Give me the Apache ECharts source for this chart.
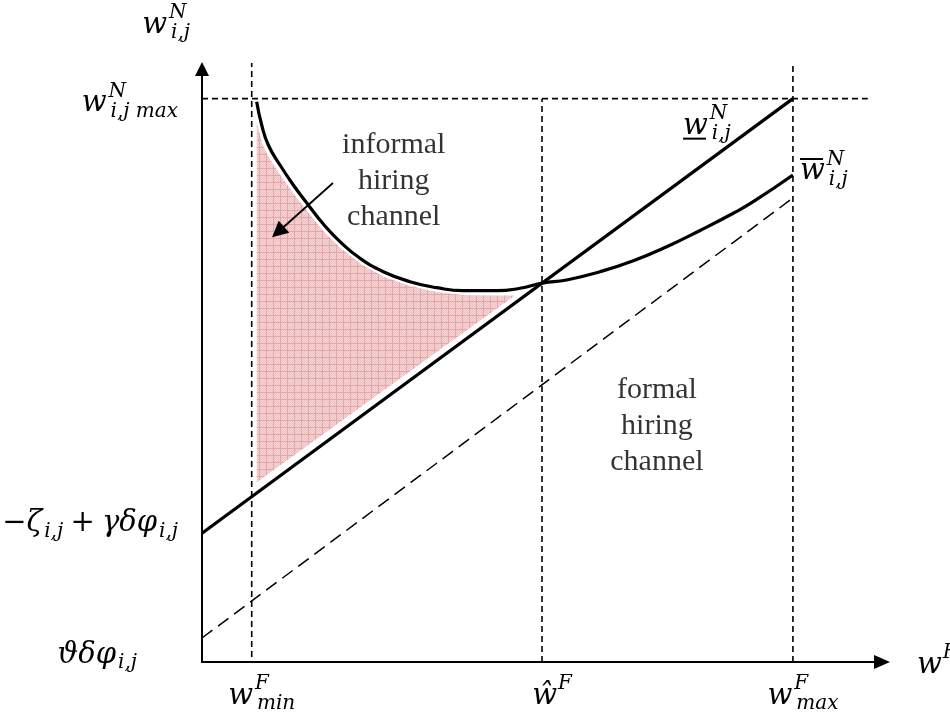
<!DOCTYPE html>
<html><head><meta charset="utf-8">
<script src="https://cdn.jsdelivr.net/npm/echarts@6/dist/echarts.min.js"></script>
<style>html,body{margin:0;padding:0;background:#fff}#c{width:950px;height:718px}</style>
</head><body><div id="c"></div>
<script>
// ---------- data (abstract units, x: 0..100, y: 0..100) ----------
const xTickValues = [7.31, 50, 86.9];                 // w^F_min, ŵ^F, w^F_max
const xTickLabels = ['{w|w}{supz|F}{sub|min}', '{w|ŵ}{sup|F}', '{w|w}{supz|F}{sub|max}'];
const yTickValues = [4.05, 21.7, 95.0];               // ϑδφ, −ζ+γδφ, w^N max
const yTickLabels = [
  '{dn|}\n{m|ϑδφ}{sub|i,j}{gap|}',
  '{m|−ζ}{sub|i,j}{m|\u2005+\u2005γδφ}{sub|i,j}\n{up|}',
  '{dn10|}\n{w|w}{supz|N}{sub|i,j max}'
];

const lowerBoundLine = [[0, 21.7], [86.9, 95.0]];      // underline w^N_{i,j}
const upperBoundCurve = [
  [8.04, 94.49], [8.78, 90.56], [9.75, 87.18], [11.47, 83.81], [13.43, 80.44],
  [15.63, 77.07], [17.84, 73.85], [20.29, 70.88], [23.24, 68.08], [26.66, 65.82],
  [30.59, 64.13], [34.51, 63.12], [38.43, 62.61], [43.34, 62.61], [46.76, 63.02],
  [50.0, 63.9], [53.63, 64.42], [58.53, 65.82], [63.43, 67.67], [68.34, 70.03],
  [73.24, 72.77], [78.13, 75.67], [81.07, 77.62], [86.9, 82.12]
];                                                      // overline w^N_{i,j}
const floorLine = [[0, 4.05], [86.9, 78.25]];          // dashed diagonal
const maxWageLine = [[0, 95.0], [97.9, 95.0]];         // w^N_{i,j max}
const wMinLine = [[7.31, 0.84], [7.31, 101]];
const wHatLine = [[50, 0], [50, 95.0]];
const wMaxLine = [[86.9, 0], [86.9, 100.5]];
const informalRegion = [
  [8.05, 91.0], [8.8, 87.6], [9.75, 85.2], [11.47, 82.2], [13.43, 79.0], [15.63, 75.8],
  [17.84, 72.7], [20.29, 69.9], [23.24, 67.2], [26.66, 65.0], [30.59, 63.4], [34.51, 62.4],
  [38.4, 61.9], [43.3, 61.8], [46.0, 61.8], [8.05, 30.3]
];
const arrowPoints = [[19.26, 80.78], [11.18, 72.51]];

// ---------- styling ----------
const MF = 'DejaVu Serif';
const TF = 'Liberation Serif';
function mathRich(big, small, lh) {
  const base = {fontFamily: MF, fontStyle: 'italic', color: '#000', align: 'left', lineHeight: lh};
  return {
    w: Object.assign({}, base, {fontSize: big}),
    m: Object.assign({}, base, {fontSize: big}),
    sup: Object.assign({}, base, {fontSize: small, padding: [0, 0, 24, 1]}),
    supz: Object.assign({}, base, {fontSize: small, padding: [0, 0, 24, 2], width: 0}),
    sub: Object.assign({}, base, {fontSize: small, padding: [16, 0, 0, 2]}),
    gap: {width: 41, height: 2, lineHeight: lh},
    dn: {width: 1, height: 34, lineHeight: 34},
    dn10: {width: 1, height: 10, lineHeight: 10},
    up: {width: 1, height: 20, lineHeight: 20},
    bar: {width: 23, height: 2, lineHeight: 3, backgroundColor: '#000', align: 'left'}
  };
}
const RICH = mathRich(29, 20, 40);
const RICH_TIGHT = mathRich(29, 20, 22);

// pattern for the pink region
const pc = document.createElement('canvas');
pc.width = 7; pc.height = 7;
const g = pc.getContext('2d');
g.fillStyle = '#f6d8d9'; g.fillRect(0, 0, 7, 7);
g.fillStyle = '#eebfc1';
for (let i = 0; i < 7; i++) for (let j = 0; j < 7; j++) if ((i + j) % 2 === 0) g.fillRect(i, j, 1, 1);
g.fillStyle = '#e3a6a9'; g.fillRect(0, 0, 7, 1); g.fillRect(0, 0, 1, 7);

const chart = echarts.init(document.getElementById('c'), null, {renderer: 'canvas'});

function dashed(data, pattern, width, clip) {
  return {type: 'line', data, symbol: 'none', silent: true, clip: clip !== false,
    lineStyle: {color: '#000', width: width, type: pattern}, z: 3};
}

const option = {
  animation: false,
  backgroundColor: '#fff',
  grid: {left: 202, top: 69, width: 680, height: 593, outerBoundsMode: 'none', containLabel: false},
  xAxis: {
    type: 'value', min: 0, max: 100,
    splitLine: {show: false}, axisTick: {show: false},
    axisLine: {show: true, onZero: false, symbol: ['none', 'triangle'], symbolSize: [14, 16],
      lineStyle: {color: '#000', width: 2}},
    axisLabel: {
      customValues: xTickValues, margin: 14, rich: RICH, padding: [0, 0, 0, 20],
      formatter: v => { const i = xTickValues.indexOf(v); return i >= 0 ? xTickLabels[i] : ''; }
    },
    name: '{w|w}{sup|F}', nameLocation: 'end', nameGap: 35, nameMoveOverlap: false,
    nameTextStyle: {rich: RICH, align: 'left', verticalAlign: 'middle', padding: [6, 0, 0, 0]}
  },
  yAxis: {
    type: 'value', min: 0, max: 100,
    splitLine: {show: false}, axisTick: {show: false},
    axisLine: {show: true, onZero: false, symbol: ['none', 'triangle'], symbolSize: [14, 14],
      lineStyle: {color: '#000', width: 2}},
    axisLabel: {
      customValues: yTickValues, margin: 24, rich: RICH,
      formatter: v => { const i = yTickValues.indexOf(v); return i >= 0 ? yTickLabels[i] : ''; }
    },
    name: '{w|w}{supz|N}{sub|i,j}', nameLocation: 'end', nameGap: 44, nameMoveOverlap: false,
    nameTextStyle: {rich: RICH, align: 'right', verticalAlign: 'middle', padding: [0, 12, 0, 0]}
  },
  series: [
    {
      type: 'custom', silent: true, z: 1,
      data: informalRegion,
      renderItem: function (params, api) {
        if (params.dataIndex !== 0) return null;
        const pts = informalRegion.map(p => api.coord(p));
        return {type: 'polygon', shape: {points: pts},
          style: {fill: {image: pc, repeat: 'repeat'}, stroke: null}};
      }
    },
    dashed(maxWageLine, [6, 4], 1.6),
    dashed(wMinLine, [6, 4], 1.6, false),
    dashed(wHatLine, [6, 4], 1.6),
    dashed(wMaxLine, [6, 4], 1.6, false),
    dashed(floorLine, [13, 7], 1.5),
    {
      type: 'line', silent: true, z: 5, symbol: 'circle', symbolSize: 1, showSymbol: true,
      itemStyle: {color: 'rgba(0,0,0,0)'},
      lineStyle: {color: '#000', width: 3.2},
      data: lowerBoundLine.map((d, i) => i === 1 ? {value: d, label: {
        show: true, position: 'inside', offset: [-86, 29], rich: RICH_TIGHT,
        formatter: '{w|w}{supz|N}{sub|i,j}\n{bar|}'}} : d)
    },
    {
      type: 'line', silent: true, z: 5, symbol: 'circle', symbolSize: 1, showSymbol: true,
      showAllSymbol: true, smooth: 0.5,
      itemStyle: {color: 'rgba(0,0,0,0)'},
      lineStyle: {color: '#000', width: 3.2},
      data: upperBoundCurve.map((d, i) => i === upperBoundCurve.length - 1 ? {value: d, label: {
        show: true, position: 'inside', offset: [31, -5], rich: RICH_TIGHT,
        formatter: '{bar|}\n{w|w}{supz|N}{sub|i,j}'}} : d)
    },
    {
      type: 'lines', coordinateSystem: 'cartesian2d', silent: true, z: 6,
      symbol: ['none', 'triangle'], symbolSize: [13, 16],
      lineStyle: {color: '#000', width: 1.8, opacity: 1},
      data: [{coords: arrowPoints}]
    },
    {
      type: 'scatter', silent: true, z: 7, symbolSize: 0,
      label: {show: true, position: 'inside', fontFamily: TF, fontSize: 30, lineHeight: 36, color: '#000',
        formatter: p => p.name},
      data: [
        {name: 'informal\nhiring\nchannel', value: [28.2, 81.1]},
        {name: 'formal\nhiring\nchannel', value: [66.9, 39.8]}
      ]
    }
  ]
};
chart.setOption(option);
</script>
</body></html>
